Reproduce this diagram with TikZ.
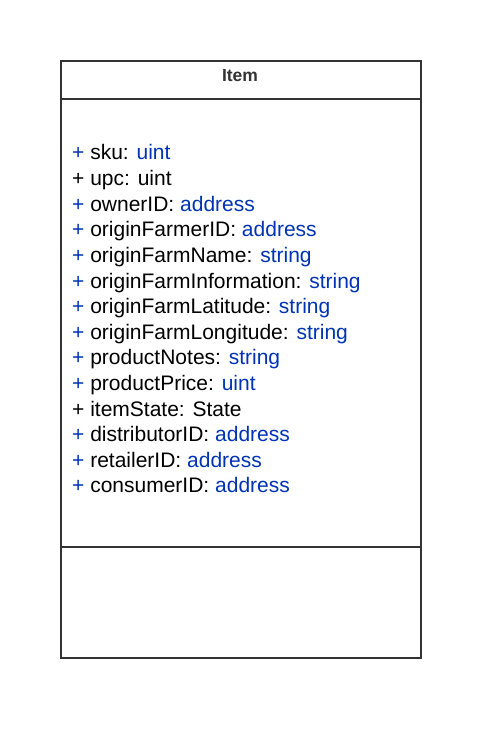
\documentclass[tikz,border=0pt]{standalone}
\usepackage{fontspec}
\setmainfont{Liberation Sans}
\definecolor{strokec}{HTML}{333333}
\definecolor{typec}{RGB}{0,51,179}
\tikzset{
  part/.style={draw=strokec, line width=2pt, minimum width=360pt, inner sep=0pt, anchor=north west},
  attr/.style={anchor=base west, inner sep=0pt, font=\fontsize{21}{25}\selectfont, text=black},
  ttl/.style={anchor=base, inner sep=0pt, font=\fontsize{17.5}{21}\selectfont\bfseries, text=strokec}
}
\newcommand{\pl}{\textcolor{typec}{+}}
\newcommand{\ty}[1]{\textcolor{typec}{#1}}
\begin{document}
\begin{tikzpicture}[x=1pt,y=1pt]
\useasboundingbox (0,0) rectangle (491,-735);
\node[part, minimum height=38pt] (hdr) at (60,-60) {};
\node[part, minimum height=448pt] (body) at (60,-98) {};
\node[part, minimum height=111pt] (foot) at (60,-546) {};
\node[ttl] (title) at (240,-82) {Item};
\node[attr] (a1) at (72,-160.0) {\pl{} sku: \ty{uint}};
\node[attr] (a2) at (72,-185.6) {+ upc: uint};
\node[attr] (a3) at (72,-211.2) {\pl{} ownerID: \ty{address}};
\node[attr] (a4) at (72,-236.8) {\pl{} originFarmerID: \ty{address}};
\node[attr] (a5) at (72,-262.4) {\pl{} originFarmName: \ty{string}};
\node[attr] (a6) at (72,-288.0) {\pl{} originFarmInformation: \ty{string}};
\node[attr] (a7) at (72,-313.6) {\pl{} originFarmLatitude: \ty{string}};
\node[attr] (a8) at (72,-339.2) {\pl{} originFarmLongitude: \ty{string}};
\node[attr] (a9) at (72,-364.8) {\pl{} productNotes: \ty{string}};
\node[attr] (a10) at (72,-390.4) {\pl{} productPrice: \ty{uint}};
\node[attr] (a11) at (72,-416.0) {+ itemState: State};
\node[attr] (a12) at (72,-441.6) {\pl{} distributorID: \ty{address}};
\node[attr] (a13) at (72,-467.2) {\pl{} retailerID: \ty{address}};
\node[attr] (a14) at (72,-492.8) {\pl{} consumerID: \ty{address}};
\end{tikzpicture}
\end{document}
